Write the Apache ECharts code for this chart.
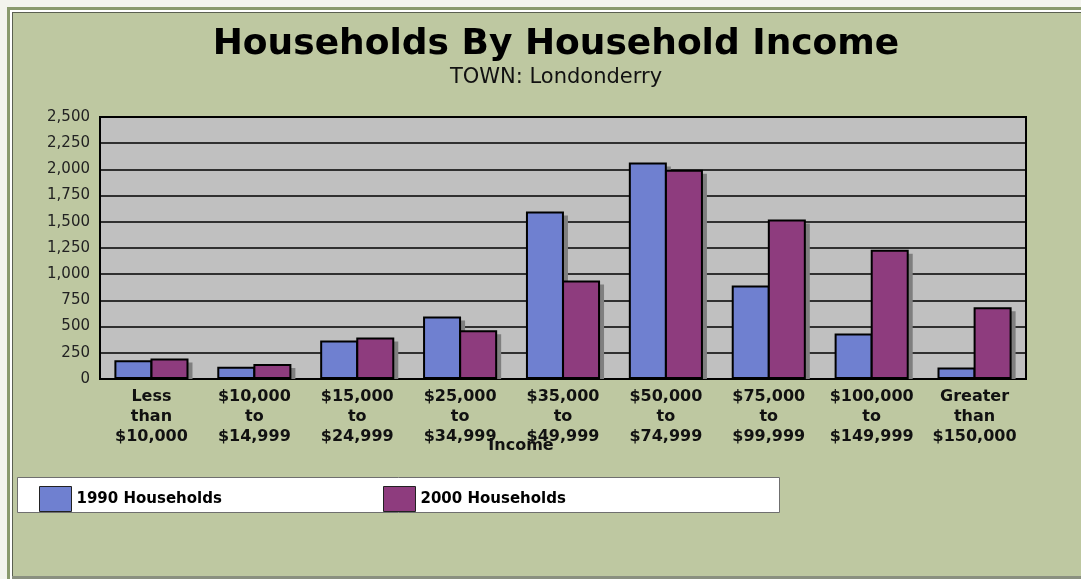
<!DOCTYPE html>
<html>
<head>
<meta charset="utf-8">
<script src="https://cdn.jsdelivr.net/npm/echarts@6/dist/echarts.min.js"></script>
<style>
html,body{margin:0;padding:0;background:#bec8a1;}
#chart{width:1081px;height:579px;}
</style>
</head>
<body>
<div id="chart"></div>
<script>
const categories = [
  "Less\nthan\n$10,000",
  "$10,000\nto\n$14,999",
  "$15,000\nto\n$24,999",
  "$25,000\nto\n$34,999",
  "$35,000\nto\n$49,999",
  "$50,000\nto\n$74,999",
  "$75,000\nto\n$99,999",
  "$100,000\nto\n$149,999",
  "Greater\nthan\n$150,000"
];
const households1990 = [178, 117, 368, 597, 1599, 2067, 892, 434, 110];
const households2000 = [196, 143, 397, 464, 941, 1997, 1522, 1233, 685];
const seriesNames = ["1990 Households", "2000 Households"];
const titleText = "Households By Household Income";
const subtitleText = "TOWN: Londonderry";
const xAxisName = "Income";

const BAR_W = 38;
const BAR_GAP = -0.05;
const chart = echarts.init(document.getElementById('chart'), null, {renderer: 'canvas'});

function shadowSeries(values, idx) {
  return {
    type: 'custom',
    silent: true,
    z: 1,
    data: values.map((v, i) => [i, v]),
    renderItem: function (params, api) {
      const top = api.coord([api.value(0), api.value(1)]);
      const base = api.coord([api.value(0), 0]);
      const total = 2 * BAR_W + BAR_GAP * BAR_W;
      const x0 = top[0] - total / 2 + idx * (BAR_W + BAR_GAP * BAR_W) + 4;
      return {
        type: 'rect',
        shape: {x: x0, y: top[1] + 4, width: BAR_W, height: Math.max(0, base[1] - top[1] - 4)},
        style: {fill: '#7f7f7f'}
      };
    }
  };
}

const legendCommon = {
  top: 481,
  itemWidth: 32,
  itemHeight: 25,
  icon: 'rect',
  z: 5,
  itemStyle: {borderColor: '#222', borderWidth: 1},
  textStyle: {fontFamily: 'DejaVu Sans', fontWeight: 'bold', fontSize: 15, color: '#000'}
};

const option = {
  backgroundColor: '#bec8a1',
  animation: false,
  graphic: [
    {type: 'rect', shape: {x: 0, y: 0, width: 1081, height: 7}, style: {fill: '#f3f4ee'}, silent: true},
    {type: 'rect', shape: {x: 0, y: 0, width: 7, height: 579}, style: {fill: '#f3f4ee'}, silent: true},
    {type: 'rect', shape: {x: 7, y: 7, width: 1074, height: 3}, style: {fill: '#8a9a6e'}, silent: true},
    {type: 'rect', shape: {x: 7, y: 7, width: 3, height: 572}, style: {fill: '#8a9a6e'}, silent: true},
    {type: 'rect', shape: {x: 10, y: 10, width: 1071, height: 2}, style: {fill: '#ffffff'}, silent: true},
    {type: 'rect', shape: {x: 10, y: 10, width: 2, height: 569}, style: {fill: '#ffffff'}, silent: true},
    {type: 'rect', shape: {x: 12, y: 12, width: 1069, height: 1}, style: {fill: '#5a5f50'}, silent: true},
    {type: 'rect', shape: {x: 12, y: 12, width: 1, height: 567}, style: {fill: '#5a5f50'}, silent: true},
    {type: 'rect', shape: {x: 12, y: 576, width: 1069, height: 3}, style: {fill: '#8a9080'}, silent: true},
    {type: 'rect', shape: {x: 17.5, y: 477.5, width: 762, height: 35},
     style: {fill: '#ffffff', stroke: '#6f6f6f', lineWidth: 1}, silent: true, z: 0}
  ],
  title: {
    text: titleText,
    subtext: subtitleText,
    left: 551,
    textAlign: 'center',
    top: 22,
    itemGap: 4,
    textStyle: {fontFamily: 'DejaVu Sans', fontWeight: 'bold', fontSize: 36, color: '#000'},
    subtextStyle: {fontFamily: 'DejaVu Sans', fontSize: 21, color: '#111'}
  },
  legend: [
    Object.assign({left: 34, data: [seriesNames[0]]}, legendCommon),
    Object.assign({left: 378, data: [seriesNames[1]]}, legendCommon)
  ],
  grid: {
    left: 100, right: 55, top: 117, bottom: 200,
    show: true, backgroundColor: '#c0c0c0', borderColor: '#000', borderWidth: 2
  },
  xAxis: {
    type: 'category',
    data: categories,
    name: xAxisName,
    nameLocation: 'middle',
    nameGap: 59,
    nameMoveOverlap: false,
    nameTextStyle: {fontFamily: 'DejaVu Sans', fontWeight: 'bold', fontSize: 16, color: '#111', padding: [0, 84, 0, 0]},
    axisLine: {show: true, lineStyle: {color: '#000', width: 2}},
    axisTick: {show: false},
    axisLabel: {fontFamily: 'DejaVu Sans', fontWeight: 'bold', fontSize: 16, color: '#111', lineHeight: 20, margin: 8, interval: 0}
  },
  yAxis: {
    type: 'value',
    min: 0, max: 2500, interval: 250,
    axisLine: {show: true, lineStyle: {color: '#000', width: 2}},
    axisTick: {show: false},
    splitLine: {show: true, lineStyle: {color: '#000', width: 1.5}},
    axisLabel: {fontFamily: 'DejaVu Sans', fontSize: 15, color: '#222', margin: 10,
      formatter: v => v.toLocaleString('en-US')}
  },
  series: [
    {
      name: seriesNames[0], type: 'bar', data: households1990,
      barWidth: BAR_W, barGap: (BAR_GAP * 100) + '%', z: 3,
      itemStyle: {color: '#6f80d0', borderColor: '#000', borderWidth: 2}
    },
    {
      name: seriesNames[1], type: 'bar', data: households2000,
      barWidth: BAR_W, barGap: (BAR_GAP * 100) + '%', z: 3,
      itemStyle: {color: '#8e3c7e', borderColor: '#000', borderWidth: 2}
    },
    shadowSeries(households1990, 0),
    shadowSeries(households2000, 1)
  ]
};
chart.setOption(option);
</script>
</body>
</html>
